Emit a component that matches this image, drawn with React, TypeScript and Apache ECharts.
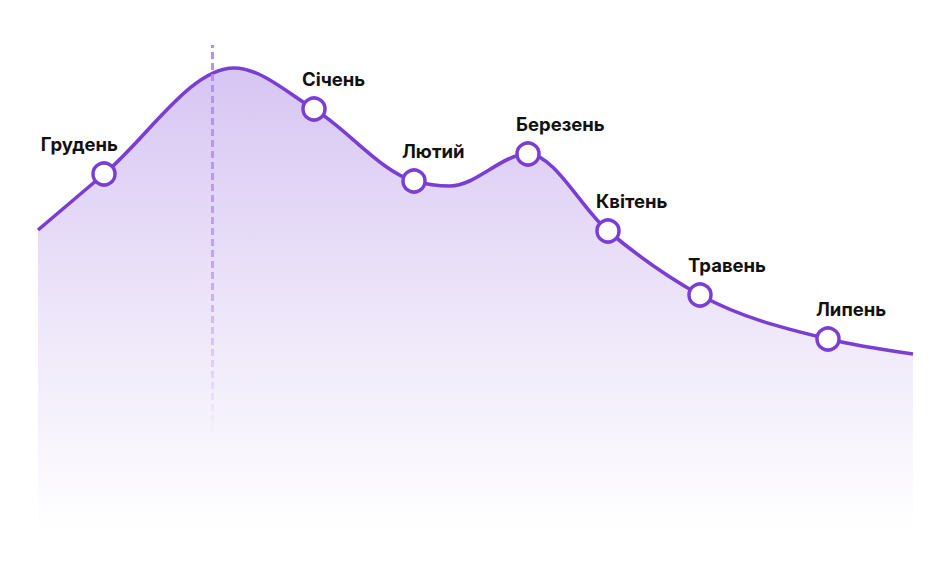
import React, { useEffect, useRef } from "react";
import * as echarts from "echarts";

// x positions (arbitrary units along the timeline) and values of the curve
const xValues = [0, 66, 196, 276, 376, 412, 490, 570, 662, 790, 875];
const yValues = [302, 358, 464, 423, 351, 346, 378, 301, 237, 193, 178];
const labels = ["", "Грудень", "", "Січень", "Лютий", "", "Березень", "Квітень", "Травень", "Липень", ""];
const markerX = 174;

const LINE = "#7a3ed5";

const sgn = (v: number) => (v < 0 ? -1 : 1);

// monotone cubic (Steffen) curve through the projected points
function monotone(pts: number[][]): string {
  const n = pts.length;
  const t: number[] = new Array(n).fill(0);
  for (let i = 1; i < n - 1; i++) {
    const h0 = pts[i][0] - pts[i - 1][0];
    const h1 = pts[i + 1][0] - pts[i][0];
    const s0 = (pts[i][1] - pts[i - 1][1]) / h0;
    const s1 = (pts[i + 1][1] - pts[i][1]) / h1;
    const p = (s0 * h1 + s1 * h0) / (h0 + h1);
    t[i] = (sgn(s0) + sgn(s1)) * Math.min(Math.abs(s0), Math.abs(s1), 0.5 * Math.abs(p)) || 0;
  }
  const end2 = (a: number[], b: number[], tt: number) => {
    const h = b[0] - a[0];
    return h ? (3 * (b[1] - a[1]) / h - tt) / 2 : tt;
  };
  t[0] = end2(pts[0], pts[1], t[1]);
  t[n - 1] = end2(pts[n - 2], pts[n - 1], t[n - 2]);
  let d = `M${pts[0][0]},${pts[0][1]}`;
  for (let i = 0; i < n - 1; i++) {
    const dx = (pts[i + 1][0] - pts[i][0]) / 3;
    d += ` C${pts[i][0] + dx},${pts[i][1] + dx * t[i]} ${pts[i + 1][0] - dx},${pts[i + 1][1] - dx * t[i + 1]} ${pts[i + 1][0]},${pts[i + 1][1]}`;
  }
  return d;
}

export default function App() {
  const ref = useRef<HTMLDivElement>(null);
  useEffect(() => {
    if (!ref.current) return;
    const chart = echarts.init(ref.current, null, { renderer: "svg" });
    const curveData = xValues.map((x, i) => [x, yValues[i]]);
    const markerData: any[] = [];
    xValues.forEach((x, i) => {
      const name = labels[i];
      if (!name) return;
      const first = i === 1;
      markerData.push({
        value: [x, yValues[i]],
        name,
        label: {
          show: true,
          formatter: name,
          position: "top",
          distance: 8,
          align: first ? "right" : "left",
          offset: first ? [14, 0] : [-12, 0],
        },
      });
    });

    chart.setOption({
      animation: false,
      grid: { left: 38, right: 29, top: 45, bottom: 39 },
      xAxis: { type: "value", min: 0, max: 875, show: false },
      yAxis: { type: "value", min: 0, max: 487, show: false },
      series: [
        {
          type: "custom",
          data: curveData,
          encode: { x: 0, y: 1 },
          silent: true,
          clip: false,
          z: 1,
          renderItem: (params: any, api: any) => {
            if (params.dataIndex !== 0) return null;
            const pts = curveData.map((p) => api.coord(p));
            const base = api.coord([0, 0])[1];
            const line = monotone(pts);
            const last = pts[pts.length - 1];
            const area = `${line} L${last[0]},${base} L${pts[0][0]},${base} Z`;
            return {
              type: "group",
              children: [
                {
                  type: "path",
                  shape: { pathData: area },
                  style: {
                    fill: new echarts.graphic.LinearGradient(0, 0, 0, 1, [
                      { offset: 0, color: "rgba(122,62,213,0.3)" },
                      { offset: 0.5, color: "rgba(122,62,213,0.14)" },
                      { offset: 1, color: "rgba(122,62,213,0)" },
                    ]),
                    stroke: "none",
                  },
                },
                {
                  type: "path",
                  shape: { pathData: line },
                  style: { fill: "none", stroke: LINE, lineWidth: 3.6 },
                },
              ],
            };
          },
        },
        {
          type: "scatter",
          data: markerData,
          z: 3,
          symbol: "circle",
          symbolSize: 22,
          itemStyle: { color: "#ffffff", borderColor: LINE, borderWidth: 3.5, opacity: 1 },
          label: {
            color: "#111111",
            fontFamily: "Inter",
            fontWeight: 700,
            fontSize: 18.5,
          },
          markLine: {
            silent: true,
            symbol: "none",
            label: { show: false },
            z: 2,
            lineStyle: {
              type: [7, 4],
              width: 3,
              color: new echarts.graphic.LinearGradient(
                0, 45, 0, 440,
                [
                  { offset: 0, color: "rgba(175,140,232,0.95)" },
                  { offset: 0.55, color: "rgba(175,140,232,0.7)" },
                  { offset: 1, color: "rgba(175,140,232,0)" },
                ],
                true
              ),
            },
            data: [{ xAxis: markerX }],
          },
        },
      ],
    });
    return () => chart.dispose();
  }, []);
  return (
    <div
      ref={ref}
      style={{ position: "fixed", left: 0, top: 0, width: 942, height: 571, background: "#fff" }}
    />
  );
}
